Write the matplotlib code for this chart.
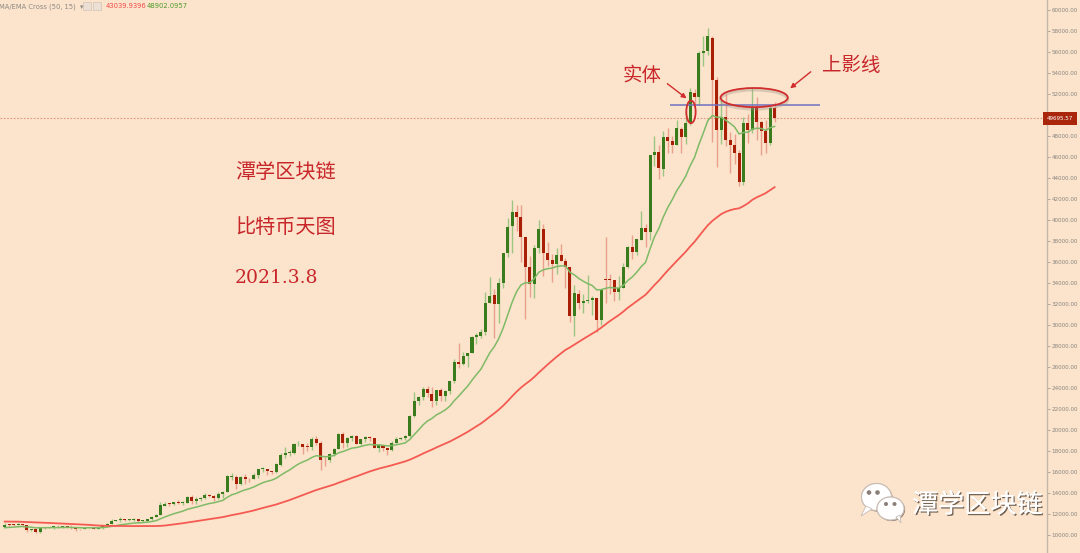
import numpy as np
import pandas as pd
import matplotlib
matplotlib.use('Agg')
import matplotlib.pyplot as plt
from matplotlib.patches import Ellipse, Polygon, Circle, Rectangle
from matplotlib.ticker import FormatStrFormatter
import matplotlib.patheffects as pe

plt.rcParams['font.family'] = ['Noto Sans CJK SC', 'DejaVu Sans']

# daily closes before the first visible candle (used only to warm up the averages)
warmup_closes = [11100, 11111, 11324, 11760, 11054, 11246, 11205, 11748, 11779, 11601,
                 11755, 11675, 11878, 11410, 11584, 11784, 11768, 11865, 11893, 12254,
                 11991, 11758, 11878, 11592, 11681, 11664, 11774, 11366, 11488, 11323,
                 11542, 11507, 11654, 11681, 11971, 11414, 10245, 10511, 10169, 10280,
                 10370, 10131, 10243, 10364, 10400, 10443, 10323, 10681, 10793]

# visible candles: 2020-09-16 .. 2021-03-08
opens = [
    10797, 10970, 10950, 10937, 11095, 10934, 10460, 10536, 10249, 10745, 10699, 10754, 10775, 10710, 10844,
    10795, 10619, 10576, 10550, 10676, 10796, 10603, 10670, 10927, 11059, 11296, 11392, 11548, 11429, 11427,
    11503, 11323, 11355, 11495, 11745, 11914, 12801, 12971, 12932, 13109, 13031, 13073, 13654, 13272, 13438, 13546,
    13781, 13737, 13551, 13950, 14133, 15565, 15565, 14823, 15480, 15333, 15290, 15696, 16317, 16317, 16068,
    15955, 16685, 17645, 17803, 17818, 18621, 18643, 18370, 18365, 19104, 18729, 17153, 17112, 17719, 18178,
    19633, 18801, 19206, 19446, 18698, 19154, 19344, 19191, 18320, 18553, 18263, 18051, 18806, 19145, 19246,
    19418, 21309, 22806, 23133, 23862, 23475, 22795, 23782, 23240, 23733, 24678, 26439, 26280, 27081, 27360, 28841,
    28995, 29376, 32130, 32811, 31977, 34013, 36834, 39381, 40789, 40254, 38347, 35516, 33915, 37325, 39156,
    36821, 36163, 35792, 36642, 36050, 35547, 30817, 32985, 32064, 32285, 32358, 32564, 30441, 34318, 34295, 34270,
    33114, 33533, 35510, 37475, 36931, 38138, 39250, 38886, 46184, 46469, 44898, 47877, 47491, 47114, 48696,
    47944, 49207, 52140, 51675, 55887, 56068,
    57330, 53330, 48560, 49800, 47600, 47100, 46400, 43600, 49200, 48600, 50800, 49300, 48500, 47300, 50650]
highs = [
    11100, 11038, 11034, 11134, 11095, 10988, 10574, 10538, 10777, 10754, 10800, 10795, 10935, 10856, 10844,
    10933, 10667, 10595, 10686, 10794, 10800, 10685, 10956, 11102, 11491, 11428, 11698, 11548, 11539, 11626,
    11540, 11386, 11483, 11799, 11999, 13184, 13161, 13001, 13145, 13330, 13225, 13759, 13837, 13612, 13664, 14028,
    13862, 13808, 14068, 14218, 15753, 15903, 15737, 15646, 15785, 15460, 15916, 16320, 16463, 16317, 16123,
    16816, 17763, 18393, 18119, 18773, 18936, 18688, 18750, 19349, 19390, 18916, 17445, 17853, 18283, 19750,
    19845, 19308, 19566, 19511, 19160, 19390, 19411, 19283, 18626, 18553, 18268, 18919, 19381, 19305, 19525,
    21458, 23642, 23238, 24085, 24209, 24059, 23783, 24024, 23778, 24710, 26718, 28288, 27389, 27370, 28937, 29244,
    29601, 33155, 34608, 33441, 34437, 36879, 40180, 41946, 41436, 41420, 38347, 36568, 37599, 39966, 39577,
    37864, 36722, 37299, 37755, 36378, 35552, 33811, 33360, 32944, 34802, 32794, 32564, 31891, 38406, 34834, 34288,
    34638, 35896, 37480, 38592, 38225, 40846, 39621, 46203, 48003, 47145, 48463, 48745, 48047, 49487, 48875,
    50342, 52534, 52474, 56113, 57505, 58330,
    57530, 53600, 51400, 52000, 48400, 48200, 46700, 49800, 50100, 52560, 51700, 49400, 49500, 50900, 51200]
lows = [
    10718, 10746, 10818, 10911, 10783, 10312, 10403, 10190, 10221, 10555, 10670, 10596, 10675, 10645, 10682,
    10543, 10416, 10522, 10535, 10634, 10528, 10580, 10546, 10846, 11059, 11289, 11240, 11321, 11307, 11348,
    11226, 11285, 11347, 11408, 11685, 11900, 12719, 12749, 12885, 12920, 12822, 13063, 12932, 12980, 13195, 13454,
    13628, 13243, 13421, 13525, 14093, 15226, 14423, 14791, 14865, 15070, 15290, 15444, 15993, 15749, 15793,
    15880, 16571, 17352, 17543, 17761, 18444, 17671, 18005, 18128, 18581, 16188, 16526, 16910, 17559, 18178,
    18321, 18347, 18925, 18697, 18590, 18897, 18923, 18269, 17935, 17957, 17619, 18046, 18734, 19012, 19079,
    19298, 21234, 22399, 22827, 23147, 22159, 22397, 22802, 22747, 23463, 24523, 25922, 26207, 25987, 27360, 28201,
    28804, 29091, 32052, 28722, 30221, 33514, 36491, 36838, 38980, 35985, 30549, 32698, 32585, 36868, 34659,
    35633, 34069, 34883, 36069, 33570, 30250, 28954, 31493, 31106, 32087, 30942, 29367, 30023, 32064, 32940, 32270,
    32384, 33489, 35443, 36317, 36658, 38138, 37446, 38076, 45166, 43881, 44187, 46424, 46392, 47114, 46347,
    47201, 49072, 51015, 50937, 54626, 55672,
    47400, 45000, 47200, 47000, 44500, 45300, 43200, 43300, 47300, 48300, 47600, 46200, 46400, 47100, 49300]
closes = [
    10975, 10948, 10944, 11094, 10938, 10462, 10538, 10247, 10746, 10702, 10755, 10775, 10709, 10844, 10785,
    10620, 10570, 10542, 10669, 10793, 10604, 10668, 10915, 11064, 11296, 11384, 11555, 11425, 11429, 11496,
    11322, 11358, 11483, 11742, 11916, 12823, 12965, 12931, 13108, 13031, 13076, 13655, 13271, 13437, 13546, 13780,
    13737, 13550, 13950, 14133, 15579, 15565, 14833, 15479, 15332, 15290, 15701, 16276, 16317, 16068, 15955,
    16716, 17645, 17804, 17817, 18622, 18643, 18371, 18364, 19107, 18733, 17150, 17109, 17717, 18178, 19625,
    18802, 19201, 19446, 18699, 19154, 19345, 19191, 18321, 18553, 18264, 18058, 18803, 19142, 19246, 19417,
    21310, 22806, 23137, 23869, 23478, 22803, 23783, 23241, 23735, 24665, 26437, 26272, 27085, 27362, 28841, 29002,
    29374, 32127, 32782, 31971, 33992, 36824, 39371, 40797, 40254, 38356, 35566, 33922, 37316, 39187, 36825,
    36178, 35792, 36630, 36070, 35548, 30826, 33006, 32068, 32289, 32367, 32569, 30432, 33466, 34316, 34269, 33114,
    33538, 35510, 37472, 36926, 38144, 39266, 38903, 46196, 46481, 44918, 47909, 47504, 47105, 48717, 47945,
    49199, 52149, 51679, 55888, 56099, 57539,
    53330, 48560, 49800, 47600, 47100, 46400, 43600, 49200, 48600, 50800, 49300, 48500, 47300, 50650, 49695.57]

last_price = 49695.57
ma_values = ['43039.9396', '48902.0957']
y_ticks = list(range(10000, 60001, 2000))

bg = '#fbe4cb'
up_body, dn_body = '#3a7b1e', '#a91f06'
up_wick, dn_wick = '#9cc583', '#eba08e'
red_txt = '#c8262b'

o = np.array(opens, float)
h = np.array(highs, float)
l = np.array(lows, float)
c = np.array(closes, float)
x = np.arange(len(c))

s = pd.Series(warmup_closes + closes, dtype=float)
n0 = len(warmup_closes)
sma50 = s.rolling(50).mean().to_numpy()[n0:]
ema15 = s.ewm(span=15, adjust=False).mean().to_numpy()[n0:]

fig = plt.figure(figsize=(10.8, 5.53), dpi=100, facecolor=bg)
ax = fig.add_axes([0, 0, 1047 / 1080, 1], facecolor=bg)

up = c >= o
ax.vlines(x[up], l[up], h[up], color=up_wick, lw=1.0, zorder=2)
ax.vlines(x[~up], l[~up], h[~up], color=dn_wick, lw=1.0, zorder=2)
body_lo = np.minimum(o, c)
body_h = np.maximum(np.abs(c - o), 70)
ax.bar(x, body_h, bottom=body_lo, width=0.68, color=np.where(up, up_body, dn_body),
       linewidth=0, zorder=3)

ax.plot(x, ema15, color='#7fba67', lw=1.1, zorder=4)
ax.plot(x, sma50, color='#f45a52', lw=1.3, zorder=4)

# current price line + label (the label hides the tick right behind it)
ax.axhline(last_price, color='#e39584', lw=0.8, ls=(0, (1.5, 1.5)), zorder=1)
ax.text(1.0, last_price, f'{last_price:.2f}', transform=ax.get_yaxis_transform(),
        ha='left', va='center', color='white', fontsize=4.1, family='DejaVu Sans', clip_on=False,
        bbox=dict(boxstyle='square,pad=0.7', fc='#a9260d', ec='none'), zorder=6)

ax.set_xlim(-1.06, 234.2)
ax.set_ylim(8286, 60952)
ax.set_xticks([])
ax.yaxis.tick_right()
ax.set_yticks([t for t in y_ticks if abs(t - last_price) > 600])
ax.yaxis.set_major_formatter(FormatStrFormatter('%.2f'))
ax.tick_params(axis='y', length=2.2, width=0.6, color='#a99d92', labelsize=4.1,
               labelcolor='#8b8682', pad=1.2)
for lab in ax.get_yticklabels():
    lab.set_family('DejaVu Sans')
for sp in ['left', 'top', 'bottom']:
    ax.spines[sp].set_visible(False)
ax.spines['right'].set_color('#c5b8ab')
ax.spines['right'].set_linewidth(1.0)

# hand-drawn annotations
ax.hlines(50940, 149.5, 183.2, color='#6f72c0', lw=1.1, zorder=5)
ax.add_patch(Ellipse((154.2, 50300), 2.1, 2150, fill=False, ec='#d12c2c', lw=1.3, zorder=6))
ax.add_patch(Ellipse((168.4, 51480), 15.1, 1820, fill=False, ec='#9a8e86', lw=2.2, alpha=0.35, zorder=5))
ax.add_patch(Ellipse((168.4, 51660), 15.1, 1820, fill=False, ec='#d12c2c', lw=1.3, zorder=6))
ax.annotate('', xy=(153.7, 51420), xytext=(148.4, 53140),
            arrowprops=dict(arrowstyle='-|>', color='#d12c2c', lw=1.0, mutation_scale=7), zorder=6)
ax.annotate('', xy=(176.0, 52370), xytext=(181.6, 54280),
            arrowprops=dict(arrowstyle='-|>', color='#d12c2c', lw=1.0, mutation_scale=7), zorder=6)
ax.text(143.2, 53800, '实体', color=red_txt, fontsize=14, ha='center', va='center', zorder=6)
ax.text(190.3, 54760, '上影线', color=red_txt, fontsize=14, ha='center', va='center', zorder=6)

# left titles
fig.text(235 / 1080, 1 - 173 / 553, '潭学区块链', color=red_txt, fontsize=14.5, ha='left', va='center')
fig.text(235 / 1080, 1 - 227 / 553, '比特币天图', color=red_txt, fontsize=14.5, ha='left', va='center')
fig.text(235 / 1080, 1 - 278 / 553, '2021.3.8', color=red_txt, fontsize=13.5, ha='left', va='center',
         family='DejaVu Serif')

# indicator legend (top-left)
fig.text(-0.001, 1 - 6.5 / 553, 'MA/EMA Cross (50, 15)  ▾', color='#8e8a86', fontsize=4.9,
         va='center', family='DejaVu Sans')
deco = fig.add_axes([0, 0, 1, 1], facecolor='none')
deco.set_xlim(0, 1080)
deco.set_ylim(553, 0)
deco.axis('off')
for x0 in (83, 93):
    deco.add_patch(Rectangle((x0, 2), 8, 8, fc='#ece0d4', ec='#d0c4b8', lw=0.5))
fig.text(106 / 1080, 1 - 6.5 / 553, ma_values[0], color='#f04848', fontsize=4.9, va='center',
         family='DejaVu Sans')
fig.text(147 / 1080, 1 - 6.5 / 553, ma_values[1], color='#4e9a2c', fontsize=4.9, va='center',
         family='DejaVu Sans')

# watermark: wechat icon + name
shadow = [pe.withSimplePatchShadow(offset=(0.8, -0.8), shadow_rgbFace='#5a4a40', alpha=0.7), pe.Normal()]
big = Ellipse((876.5, 497), 30, 27, fc='white', ec='#c8bcb4', lw=0.8)
big.set_path_effects(shadow)
deco.add_patch(big)
tail1 = Polygon([(866, 506), (861, 516), (872, 509)], closed=True, fc='white', ec='#c8bcb4', lw=0.6)
deco.add_patch(tail1)
small = Ellipse((890.5, 508.5), 27, 23, fc='white', ec='#c8bcb4', lw=0.8)
small.set_path_effects(shadow)
deco.add_patch(small)
tail2 = Polygon([(896, 517), (901, 523), (900, 515)], closed=True, fc='white', ec='#c8bcb4', lw=0.6)
deco.add_patch(tail2)
for ex, ey, r in [(869, 492.5, 2.3), (877.5, 492.5, 2.3), (886, 504, 2.0), (894.5, 504, 2.0)]:
    deco.add_patch(Circle((ex, ey), r, fc='#8a7e78', ec='none'))
fig.text(912 / 1080, 1 - 505 / 553, '潭学区块链', color='white', fontsize=18.8, ha='left', va='center',
         path_effects=[pe.withSimplePatchShadow(offset=(1.0, -1.0), shadow_rgbFace='#4a3a30', alpha=0.75),
                       pe.Normal()])

fig.savefig('out.png', dpi=100, facecolor=bg)
